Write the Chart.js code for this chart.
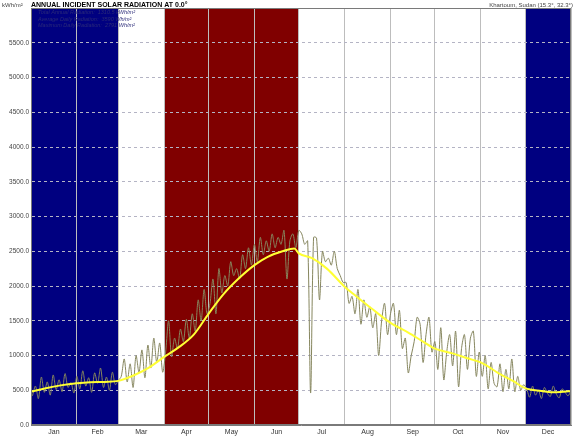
<!DOCTYPE html>
<html><head><meta charset="utf-8">
<script src="https://cdn.jsdelivr.net/npm/chart.js@4.4.1/dist/chart.umd.min.js"></script>
<style>html,body{margin:0;padding:0;background:#fff}#wrap{width:577px;height:443px;position:relative}</style>
</head><body><div id="wrap"><canvas id="c" width="577" height="443"></canvas></div>
<script>
const months = ['Jan','Feb','Mar','Apr','May','Jun','Jul','Aug','Sep','Oct','Nov','Dec'];
const monthStartDays = [0,31,59,90,120,151,181,212,243,273,304,334,365];
const monthMidDays = [15.5,45,74.5,105,135.5,166,196.5,227.5,258,288.5,319,349.5];
const monthBands = ['#000080','#000080','#ffffff','#800000','#800000','#800000','#ffffff','#ffffff','#ffffff','#ffffff','#ffffff','#000080'];
const yTickValues = [0,500,1000,1500,2000,2500,3000,3500,4000,4500,5000,5500,6000];

// daily incident radiation (sampled every 2nd day), Wh/m2
const janVals = [420,560,380,690,470,620,430,720,510,650,480,740,540,610,460,700];
const febVals = [520,780,560,680,470,750,600,820,540,690,500,760,580,640];
const marVals = [700,950,620,880,540,1000,760,1080,680,1150,820,1250,900,1180,760];
const aprVals = [1050,1500,980,1250,1100,1380,1200,1520,1250,1600,1350,1800,1500,1950,1600];
const mayVals = [1750,2100,1600,2250,1900,2150,2000,2350,2150,2250,2100,2450,2250,2550,2300,2600];
const junVals = [2350,2700,2450,2650,2500,2750,2550,2700,2600,2800,2100,2650,2750,2550,2800];
const julVals = [2750,2600,2650,460,2700,2690,1800,2500,2350,2400,2300,2500,2250,2150,2050];
const augVals = [2050,1750,1850,1600,1950,1450,1800,1550,1700,1400,1600,1000,1500,1750,1300,1600];
const sepVals = [1750,1300,1650,1100,1250,750,1000,1200,1550,1450,900,1300,1550,1050,1200];
const octVals = [800,1400,650,1050,1300,850,1350,550,1100,1300,800,1250,1350,700,1050];
const novVals = [700,1000,520,900,600,550,880,480,800,520,950,480,700,500,580];
const decVals = [520,400,560,430,500,380,540,460,410,560,450,390,520,470,420,500];
const dailyVals = [].concat(janVals,febVals,marVals,aprVals,mayVals,junVals,julVals,augVals,sepVals,octVals,novVals,decVals);
const dailyDays = dailyVals.map((v,i)=>1+2*i);

// smoothed trend
const trendDays = [0,10,20,31,40,50,59,70,80,90,100,110,120,130,140,151,160,170,178,181,190,200,212,220,230,243,255,265,273,285,295,304,318,326,334,345,355,365];
const trendVals = [480,530,570,600,615,620,635,720,830,980,1120,1300,1600,1880,2100,2300,2420,2500,2540,2470,2400,2250,1990,1850,1680,1470,1330,1200,1100,1030,960,900,720,630,530,490,470,490];

const bgPlugin = {
  id:'bands',
  beforeDraw(chart){
    const {ctx, chartArea:a, scales:{x}} = chart;
    ctx.save();
    for(let i=0;i<12;i++){
      const x0 = x.getPixelForValue(monthStartDays[i]);
      const x1 = x.getPixelForValue(monthStartDays[i+1]);
      ctx.fillStyle = monthBands[i];
      ctx.fillRect(x0, a.top, x1-x0, a.bottom-a.top);
    }
    ctx.restore();
  },
  afterDraw(chart){
    const {ctx, chartArea:a} = chart;
    ctx.save();
    ctx.strokeStyle='#7a7a7a'; ctx.lineWidth=1;
    ctx.strokeRect(a.left+0.5, a.top+0.5, a.right-a.left-1, a.bottom-a.top-1);
    ctx.textBaseline='alphabetic';
    ctx.fillStyle='#000';
    ctx.font='bold 7px "Liberation Sans", Arial, sans-serif';
    ctx.textAlign='left';
    ctx.fillText('ANNUAL INCIDENT SOLAR RADIATION AT 0.0°', 31, 6.5);
    ctx.font='6px "Liberation Sans", Arial, sans-serif';
    ctx.fillStyle='#444';
    ctx.fillText('kWh/m²', 2, 6.5);
    ctx.textAlign='right';
    ctx.fillText('Khartoum, Sudan (15.3°, 32.3°)', 573, 6.5);
    ctx.textAlign='left';
    ctx.fillStyle='#2a2a78';
    ctx.font='italic 5.5px "Liberation Sans", Arial, sans-serif';
    ctx.fillText('Total Annual Radiation:  1310.5 kWh/m²', 38, 14);
    ctx.fillText('Average Daily Radiation:  3590 Wh/m²', 38, 20.5);
    ctx.fillText('Maximum Daily Radiation:  2791 Wh/m²', 38, 27);
    ctx.restore();
  }
};

new Chart(document.getElementById('c'), {
  type:'line',
  data:{datasets:[
    {data: trendDays.map((d,i)=>({x:d,y:trendVals[i]})), borderColor:'#ffff33', borderWidth:2, pointRadius:0, cubicInterpolationMode:'monotone'},
    {data: dailyDays.map((d,i)=>({x:d,y:dailyVals[i]})), borderColor:'#86865e', borderWidth:1, pointRadius:0, tension:0.3}
  ]},
  options:{
    responsive:false, animation:false, devicePixelRatio:1,
    layout:{padding:{left:0,right:6,top:8,bottom:0}},
    plugins:{legend:{display:false}, tooltip:{enabled:false}},
    scales:{
      x:{type:'linear', min:0, max:365, position:'bottom',
        afterBuildTicks(s){ s.ticks = monthMidDays.map(v=>({value:v})); },
        afterFit(s){ s.height = 18; },
        ticks:{autoSkip:false, maxRotation:0, padding:3, color:'#333', font:{size:7, family:'"Liberation Sans", Arial, sans-serif'},
          callback(v){ const i = monthMidDays.indexOf(v); return i>=0?months[i]:''; }},
        grid:{display:false, drawTicks:false},
        border:{display:true, color:'#7a7a7a'}
      },
      x2:{type:'linear', min:0, max:365, position:'bottom',
        afterBuildTicks(s){ s.ticks = monthStartDays.map(v=>({value:v})); },
        afterFit(s){ s.height = 0; },
        ticks:{display:false},
        grid:{display:true, color:'#bdbdbd', lineWidth:1, drawTicks:false},
        border:{display:false}
      },
      y:{min:0, max:6000,
        afterBuildTicks(s){ s.ticks = yTickValues.map(v=>({value:v})); },
        afterFit(s){ s.width = 31; },
        ticks:{padding:2, color:'#444', font:{size:6.5, family:'"Liberation Sans", Arial, sans-serif'},
          callback(v){ return v>=6000 ? '' : Number(v).toFixed(1); }},
        grid:{color:'#b4b4c4', lineWidth:1, drawTicks:false},
        border:{display:true, color:'#7a7a7a', dash:[3,3]}
      }
    }
  },
  plugins:[bgPlugin]
});
</script>
</body></html>
